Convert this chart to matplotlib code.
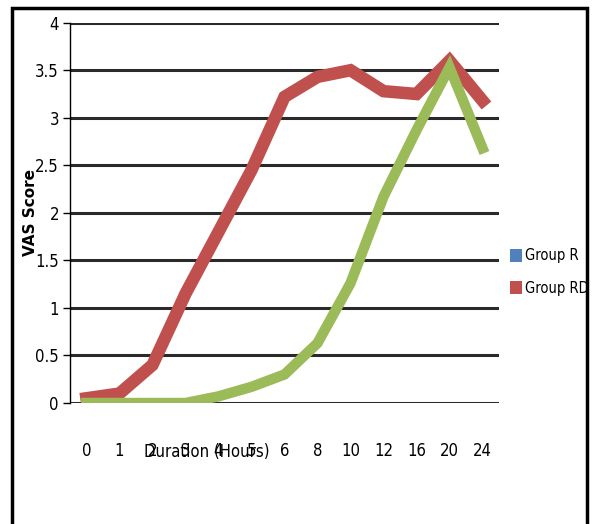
import matplotlib.pyplot as plt
from matplotlib.patches import Patch, Rectangle

# categories (hours) and VAS scores
hours = ['0', '1', '2', '3', '4', '5', '6', '8', '10', '12', '16', '20', '24']
group_r = [0, 0, 0, 0, 0.07, 0.17, 0.3, 0.63, 1.26, 2.17, 2.87, 3.53, 2.68]
group_rd = [0.05, 0.1, 0.4, 1.15, 1.8, 2.45, 3.22, 3.43, 3.5, 3.28, 3.25, 3.6, 3.18]

plt.rcParams['font.family'] = ['DejaVu Sans']
plt.rcParams['font.stretch'] = 'condensed'

fig = plt.figure(figsize=(5.92, 5.24), dpi=100)
ax = fig.add_axes([70 / 592, 1 - 403 / 524, 429 / 592, 380.3 / 524])

x = list(range(len(hours)))
ax.plot(x, group_rd, color='#C0504D', linewidth=9, solid_joinstyle='miter', zorder=3)
ax.plot(x, group_r, color='#9BBB59', linewidth=7.5, solid_joinstyle='miter', zorder=4)

ax.set_xlim(-0.5, len(hours) - 0.5)
ax.set_ylim(0, 4)
ax.set_yticks([0, 0.5, 1, 1.5, 2, 2.5, 3, 3.5, 4])
ax.set_yticklabels(['0', '0.5', '1', '1.5', '2', '2.5', '3', '3.5', '4'], fontsize=12)
ax.set_xticks(x)
ax.set_xticklabels(hours, fontsize=12)
ax.tick_params(axis='x', length=0, pad=28)
ax.tick_params(axis='y', length=5, width=1, pad=3)

ax.yaxis.grid(True, color='#2a2a2a', linewidth=2.2)
ax.set_axisbelow(True)
for s in ['top', 'right', 'bottom']:
    ax.spines[s].set_visible(False)
ax.spines['left'].set_linewidth(1)

ax.set_ylabel('VAS Score', fontsize=11, fontweight='bold', stretch='normal')
ax.yaxis.set_label_coords(-32 / 429, 0.5)
fig.text(207 / 592, 1 - 452 / 524, 'Duration (Hours)', fontsize=12, ha='center', va='center')

handles = [Patch(facecolor='#4F81BD', label='Group R'),
           Patch(facecolor='#C0504D', label='Group RD')]
fig.legend(handles=handles, loc='center left', bbox_to_anchor=(503 / 592, 1 - 272 / 524),
           frameon=False, fontsize=10.5, handlelength=0.8, handleheight=1.0,
           handletextpad=0.2, labelspacing=1.2, borderpad=0)

# outer frame
fig.patches.append(Rectangle((12 / 592, -0.01), 575 / 592, 1 - 8 / 524 + 0.01,
                             transform=fig.transFigure, fill=False,
                             edgecolor='black', linewidth=2.5))

plt.savefig('out.png', dpi=100)
